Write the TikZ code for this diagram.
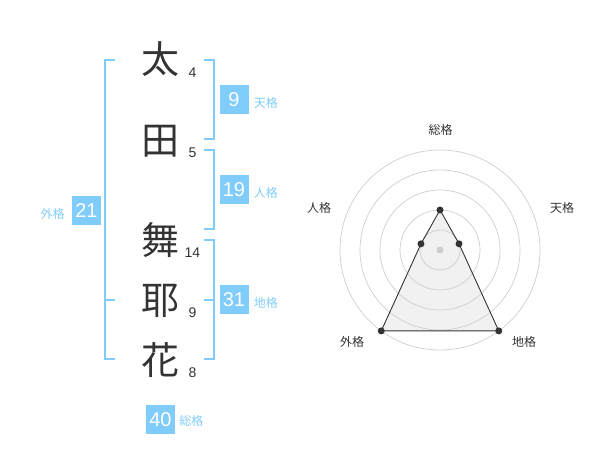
\documentclass[tikz,border=0pt]{standalone}
\usepackage{fontspec}
\setmainfont{Liberation Sans}
\newfontfamily\jpfont{Noto Sans CJK JP}
\usetikzlibrary{positioning}
\definecolor{kakublue}{RGB}{128,204,250}
\definecolor{inkgray}{RGB}{51,51,51}
\definecolor{ringgray}{RGB}{206,206,206}
\definecolor{areagray}{RGB}{241,241,241}

\begin{document}
\begin{tikzpicture}[x=1pt,y=-1pt,
	kanji/.style={font=\jpfont\fontsize{38}{38}\selectfont,text=inkgray,inner sep=0pt},
	strokes/.style={font=\fontsize{14}{14}\selectfont,text=inkgray,inner sep=0pt},
	kakubox/.style={fill=kakublue,text=white,minimum size=29pt,inner sep=0pt,font=\fontsize{20}{20}\selectfont},
	kakulbl/.style={font=\jpfont\fontsize{12}{12}\selectfont,text=kakublue,inner sep=0pt},
	axislbl/.style={font=\jpfont\fontsize{12}{12}\selectfont,text=inkgray,inner sep=0pt},
	kakuline/.style={draw=kakublue,line width=1.8pt},
	datadot/.style={circle,fill=inkgray,inner sep=0pt,minimum size=7pt}]

\useasboundingbox (0,0) rectangle (600,470);

\def\nameX{160}
\def\countX{192.5}
\def\brL{105}
\def\brR{214}
\def\tickW{10}
\def\boxX{234}

% name, one character per line
\node[kanji] (sei1) at (\nameX,59) {太};
\node[kanji] (sei2) at (\nameX,141) {田};
\node[kanji] (mei1) at (\nameX,240) {舞};
\node[kanji] (mei2) at (\nameX,300.5) {耶};
\node[kanji] (mei3) at (\nameX,360.5) {花};

% stroke counts
\node[strokes] (cnt1) at (\countX,73) {4};
\node[strokes] (cnt2) at (\countX,153) {5};
\node[strokes] (cnt3) at (\countX,252.5) {14};
\node[strokes] (cnt4) at (\countX,312.5) {9};
\node[strokes] (cnt5) at (\countX,373) {8};

% outer bracket
\draw[kakuline] (\brL+\tickW,60) -- (\brL,60) -- (\brL,359) -- (\brL+\tickW,359);
\draw[kakuline] (\brL,300) -- ++(\tickW,0);
% right brackets
\draw[kakuline] (\brR-\tickW,60) -- (\brR,60) -- (\brR,139) -- (\brR-\tickW,139);
\draw[kakuline] (\brR-\tickW,150) -- (\brR,150) -- (\brR,229) -- (\brR-\tickW,229);
\draw[kakuline] (\brR-\tickW,240) -- (\brR,240) -- (\brR,359) -- (\brR-\tickW,359);
\draw[kakuline] (\brR,300) -- ++(-\tickW,0);

% totals
\node[kakubox] (ten) at (\boxX,100) {9};
\node[kakulbl, right=5pt of ten, yshift=-3pt] (tenLbl) {天格};
\node[kakubox] (jin) at (\boxX,189.5) {19};
\node[kakulbl, right=5pt of jin, yshift=-3pt] (jinLbl) {人格};
\node[kakubox] (chi) at (\boxX,300) {31};
\node[kakulbl, right=5pt of chi, yshift=-3pt] (chiLbl) {地格};
\node[kakubox] (gai) at (86.5,210.5) {21};
\node[kakulbl, left=7pt of gai, yshift=-3pt] (gaiLbl) {外格};
\node[kakubox] (sou) at (160.5,419.5) {40};
\node[kakulbl, right=4pt of sou, yshift=-1.5pt] (souLbl) {総格};

% radar chart
\begin{scope}[shift={(440,250)},y=1pt]
	\coordinate (ctr) at (0,0);
	\coordinate (rSou) at (90:40);
	\coordinate (rTen) at (18:20);
	\coordinate (rChi) at (-54:100);
	\coordinate (rGai) at (-126:100);
	\coordinate (rJin) at (162:20);

	% area
	\fill[areagray] (rSou) -- (rTen) -- (rChi) -- (rGai) -- (rJin) -- cycle;
	% rings
	\foreach \r in {20,40,60,80,100}
		\draw[ringgray,line width=0.7pt] (ctr) circle (\r);
	\fill[ringgray] (ctr) circle (3.5);
	% outline
	\draw[inkgray,line width=0.9pt,line join=round] (rSou) -- (rTen) -- (rChi) -- (rGai) -- (rJin) -- cycle;
	\node[datadot] (dSou) at (rSou) {};
	\node[datadot] (dTen) at (rTen) {};
	\node[datadot] (dChi) at (rChi) {};
	\node[datadot] (dGai) at (rGai) {};
	\node[datadot] (dJin) at (rJin) {};

	% axis names
	\node[axislbl] (aSou) at (0.5,120) {総格};
	\node[axislbl] (aTen) at (122,42) {天格};
	\node[axislbl] (aJin) at (-121,42) {人格};
	\node[axislbl] (aGai) at (-88,-92) {外格};
	\node[axislbl] (aChi) at (84,-92) {地格};
\end{scope}

\end{tikzpicture}
\end{document}
